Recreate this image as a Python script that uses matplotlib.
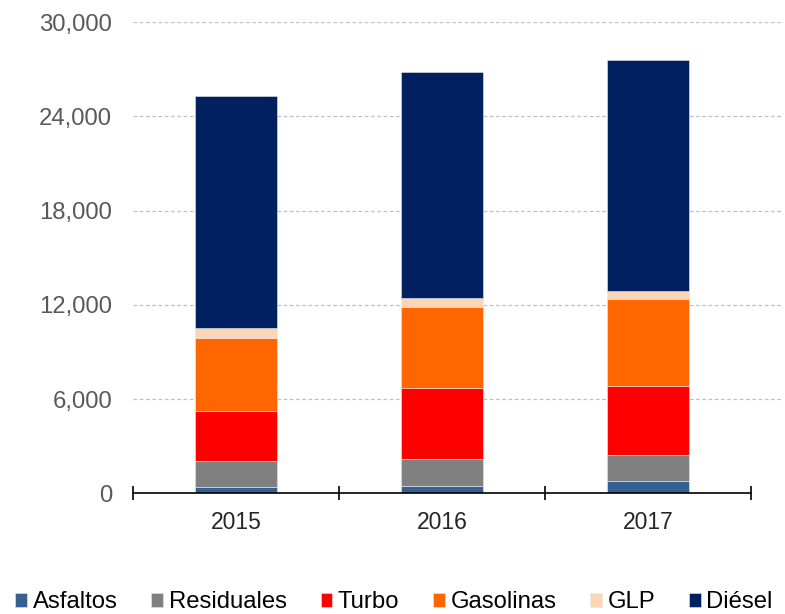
import matplotlib.pyplot as plt
import numpy as np

plt.rcParams['font.family'] = ['Liberation Sans', 'DejaVu Sans']

years = ['2015', '2016', '2017']
series_names = ['Asfaltos', 'Residuales', 'Turbo', 'Gasolinas', 'GLP', 'Diésel']
asfaltos = [400, 480, 800]
residuales = [1630, 1720, 1655]
turbo = [3215, 4490, 4405]
gasolinas = [4655, 5160, 5490]
glp = [640, 580, 525]
diesel = [14740, 14380, 14695]
y_ticks = [0, 6000, 12000, 18000, 24000, 30000]

colors = ['#376092', '#808080', '#FF0000', '#FF6600', '#FCD5B5', '#002060']

fig = plt.figure(figsize=(7.85, 6.14), dpi=100)
ax = fig.add_axes([0.1694, 0.1966, 0.8266, 0.7674])

x = np.arange(len(years))
bottom = np.zeros(len(years))
handles = []
for name, vals, col in zip(series_names, [asfaltos, residuales, turbo, gasolinas, glp, diesel], colors):
    b = ax.bar(x, vals, width=0.4, bottom=bottom, color=col, label=name,
               edgecolor='#e8e8e8', linewidth=0.4, zorder=3)
    handles.append(b)
    bottom += np.array(vals)

ax.set_ylim(0, 30000)
ax.set_xlim(-0.5, 2.65)

# dashed gridlines
for t in y_ticks[1:]:
    ax.axhline(t, color='#c0c0c0', linestyle=(0, (3, 2)), linewidth=0.9, zorder=1)

ax.set_yticks(y_ticks)
ax.set_yticklabels([f'{v:,}' for v in y_ticks], color='#595959', fontsize=17.2)
ax.tick_params(axis='y', length=0, pad=15)

ax.set_xticks(x)
ax.set_xticklabels(years, fontsize=16.5, color='#262626')
ax.tick_params(axis='x', which='major', length=0, pad=13)
ax.set_xticks([-0.5, 0.5, 1.5, 2.5], minor=True)
ax.tick_params(axis='x', which='minor', direction='inout', length=10, width=1.2, color='black')

for s in ['top', 'right', 'left']:
    ax.spines[s].set_visible(False)
ax.spines['bottom'].set_bounds(-0.5, 2.5)
ax.spines['bottom'].set_linewidth(1.2)
ax.spines['bottom'].set_zorder(4)

fig.legend(handles=handles, labels=series_names, loc='lower center', ncol=6,
           bbox_to_anchor=(0.502, -0.034), frameon=False, fontsize=17.2,
           handlelength=0.5, handleheight=0.5, handletextpad=0.22, columnspacing=1.42)

fig.savefig('out.png', dpi=100)
